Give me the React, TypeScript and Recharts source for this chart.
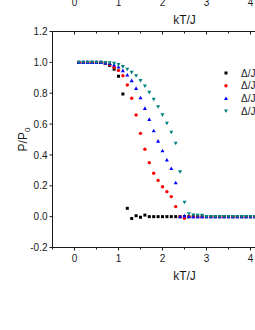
import { ScatterChart, Scatter, XAxis, YAxis, Label } from "recharts";

// temperatures kT/J
const temps = [
  0.1, 0.2, 0.3, 0.4, 0.5, 0.6, 0.7, 0.8, 0.9, 1.0,
  1.1, 1.2, 1.3, 1.4, 1.5, 1.6, 1.7, 1.8, 1.9, 2.0,
  2.1, 2.2, 2.3, 2.4, 2.5, 2.6, 2.7, 2.8, 2.9, 3.0,
  3.1, 3.2, 3.3, 3.4, 3.5, 3.6, 3.7, 3.8, 3.9, 4.0,
  4.1, 4.2, 4.3, 4.4, 4.5, 4.6,
];

// P/P0 per series
const blackVals = [
  1, 1, 1, 1, 1, 1, 0.995, 0.98, 0.956, 0.91,
  0.795, 0.054, -0.012, 0.006, -0.004, 0.01, 0, 0, 0, 0,
  0, 0, 0, 0, 0, 0, 0, 0, 0, 0,
  0, 0, 0, 0, 0, 0, 0, 0, 0, 0,
  0, 0, 0, 0, 0, 0,
];
const redVals = [
  1, 1, 1, 1, 1, 1, 0.996, 0.985, 0.968, 0.948,
  0.913, 0.853, 0.767, 0.659, 0.54, 0.437, 0.35, 0.281, 0.235, 0.194,
  0.162, 0.13, 0.065, 0.0, -0.01, 0, 0, 0, 0, 0,
  0, 0, 0, 0, 0, 0, 0, 0, 0, 0,
  0, 0, 0, 0, 0, 0,
];
const blueVals = [
  1, 1, 1, 1, 1, 1, 0.997, 0.993, 0.984, 0.97,
  0.947, 0.918, 0.882, 0.832, 0.771, 0.702, 0.631, 0.557, 0.49, 0.427,
  0.367, 0.312, 0.22, 0.0, 0.005, 0, 0, 0, 0, 0,
  0, 0, 0, 0, 0, 0, 0, 0, 0, 0,
  0, 0, 0, 0, 0, 0,
];
const tealVals = [
  1, 1, 1, 1, 1, 1, 0.999, 0.997, 0.993, 0.985,
  0.972, 0.955, 0.935, 0.913, 0.881, 0.846, 0.805, 0.76, 0.712, 0.659,
  0.605, 0.547, 0.475, 0.29, 0.093, 0.018, 0.01, 0.008, 0.008, 0,
  0, 0, 0, 0, 0, 0, 0, 0, 0, 0,
  0, 0, 0, 0, 0, 0,
];

const seriesNames = ["Δ/J", "Δ/J", "Δ/J", "Δ/J"];
const xTicks = [-0.5, 0, 0.5, 1, 1.5, 2, 2.5, 3, 3.5, 4, 4.5, 5, 5.5];
const yTicks = [-0.2, -0.1, 0, 0.1, 0.2, 0.3, 0.4, 0.5, 0.6, 0.7, 0.8, 0.9, 1.0, 1.1, 1.2];

const INK = "#1a1a1a";
const FONT = "'Liberation Sans', Arial, sans-serif";
const CHART_W = 327;

const toRows = (vals: number[]) => temps.map((t, i) => ({ t, p: vals[i] }));

const Square = ({ cx, cy }: any) => <rect x={cx - 1.5} y={cy - 1.5} width={3} height={3} fill="#000000" />;
const Dot = ({ cx, cy }: any) => <circle cx={cx} cy={cy} r={1.7} fill="#ff0000" />;
const Up = ({ cx, cy }: any) => (
  <path d={`M${cx},${cy - 2} L${cx + 2},${cy + 1.6} L${cx - 2},${cy + 1.6} Z`} fill="#0000ff" />
);
const Down = ({ cx, cy }: any) => (
  <path d={`M${cx},${cy + 2} L${cx + 2},${cy - 1.6} L${cx - 2},${cy - 1.6} Z`} fill="#008080" />
);

const series = [
  { vals: blackVals, shape: Square },
  { vals: redVals, shape: Dot },
  { vals: blueVals, shape: Up },
  { vals: tealVals, shape: Down },
];

const BottomTick = ({ x, y, payload }: any) => {
  const v = payload.value;
  const major = Number.isInteger(v);
  return (
    <g>
      <line x1={x} x2={x} y1={y} y2={y + (major ? 3 : 2)} stroke={INK} />
      {major && (
        <text x={x} y={y + 14} textAnchor="middle" fontSize={10} fontFamily={FONT} fill={INK}>
          {v}
        </text>
      )}
    </g>
  );
};

const TopTick = ({ x, y, payload }: any) => {
  const major = Number.isInteger(payload.value);
  return <line x1={x} x2={x} y1={y} y2={y + (major ? 3 : 2)} stroke={INK} />;
};

const LeftTick = ({ x, y, payload }: any) => {
  const v = payload.value;
  const major = Math.round(v * 10) % 2 === 0;
  return (
    <g>
      <line x1={x} x2={x - (major ? 3 : 2)} y1={y} y2={y} stroke={INK} />
      {major && (
        <text x={x - 5} y={y + 3.6} textAnchor="end" fontSize={10} fontFamily={FONT} fill={INK}>
          {v.toFixed(1)}
        </text>
      )}
    </g>
  );
};

const XTitle = ({ viewBox }: any) => (
  <text
    x={viewBox.x + viewBox.width / 2}
    y={viewBox.y + 32}
    textAnchor="middle"
    fontSize={12}
    fontFamily={FONT}
    fill={INK}
  >
    kT/J
  </text>
);

const YTitle = ({ viewBox }: any) => {
  const cx = 26.7;
  const cy = viewBox.y + viewBox.height / 2;
  return (
    <text x={cx} y={cy} transform={`rotate(-90 ${cx} ${cy})`} textAnchor="middle" fontSize={12} fontFamily={FONT} fill={INK}>
      P/P
      <tspan fontSize={8} dy={3}>0</tspan>
    </text>
  );
};

export default function App() {
  return (
    <div style={{ position: "fixed", left: 0, top: 0, width: 255, height: 330, overflow: "hidden", background: "#fff" }}>
      {/* bottom of the panel above, cut off */}
      <div style={{ position: "absolute", left: 0, top: -28.5 }}>
        <ScatterChart width={CHART_W} height={60} margin={{ top: 0, right: 10.5, bottom: 0, left: 52.5 }}>
          <XAxis
            type="number"
            dataKey="t"
            domain={[-0.5, 5.5]}
            ticks={xTicks}
            allowDataOverflow
            height={40}
            stroke={INK}
            tickSize={0}
            tickMargin={0}
            tickLine={false}
            tick={<BottomTick />}
          >
            <Label content={<XTitle />} />
          </XAxis>
          <YAxis type="number" dataKey="p" domain={[-0.2, 1.2]} hide />
          <Scatter data={[]} isAnimationActive={false} />
        </ScatterChart>
      </div>

      <div style={{ position: "absolute", left: 0, top: 0 }}>
        <ScatterChart width={CHART_W} height={330} margin={{ top: 30.5, right: 10.5, bottom: 42.5, left: 0.5 }}>
          <XAxis
            xAxisId="b"
            type="number"
            dataKey="t"
            domain={[-0.5, 5.5]}
            ticks={xTicks}
            allowDataOverflow
            height={40}
            stroke={INK}
            tickSize={0}
            tickMargin={0}
            tickLine={false}
            tick={<BottomTick />}
          >
            <Label content={<XTitle />} />
          </XAxis>
          <XAxis
            xAxisId="top"
            orientation="top"
            type="number"
            dataKey="t"
            domain={[-0.5, 5.5]}
            ticks={xTicks}
            allowDataOverflow
            height={1}
            stroke={INK}
            tickSize={0}
            tickMargin={0}
            tickLine={false}
            tick={<TopTick />}
          />
          <YAxis
            type="number"
            dataKey="p"
            domain={[-0.2, 1.2]}
            ticks={yTicks}
            allowDataOverflow
            width={52}
            stroke={INK}
            tickSize={0}
            tickMargin={0}
            tickLine={false}
            tick={<LeftTick />}
          >
            <Label content={<YTitle />} />
          </YAxis>
          {series.map((s, i) => (
            <Scatter
              key={i}
              xAxisId="b"
              name={seriesNames[i]}
              data={toRows(s.vals)}
              shape={<s.shape />}
              isAnimationActive={false}
            />
          ))}
        </ScatterChart>
      </div>

      {/* legend */}
      <svg style={{ position: "absolute", left: 0, top: 0 }} width={255} height={330} pointerEvents="none">
        {series.map((s, i) => {
          const y = 73 + i * 12.7;
          const Shape = s.shape;
          return (
            <g key={i}>
              <Shape cx={226} cy={y} />
              <text x={241} y={y + 3.6} fontSize={10} fontFamily={FONT} fill={INK}>
                {seriesNames[i]}
              </text>
            </g>
          );
        })}
      </svg>
    </div>
  );
}
